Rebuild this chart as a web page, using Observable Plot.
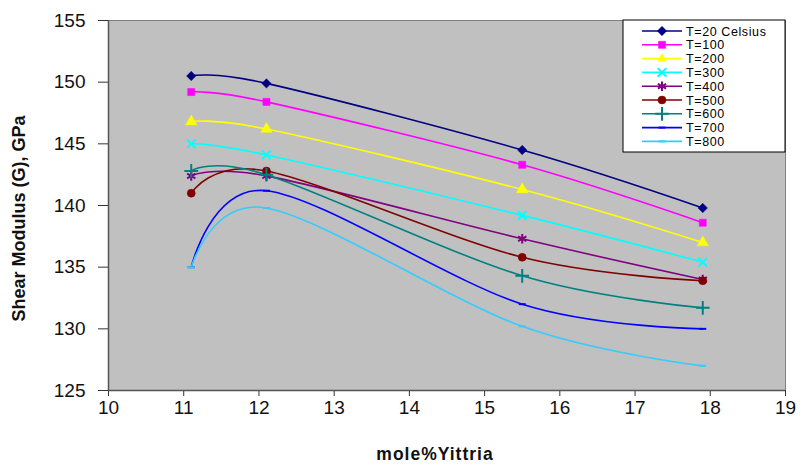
<!DOCTYPE html>
<html><head><meta charset="utf-8">
<script src="https://cdn.jsdelivr.net/npm/d3@7"></script>
<script src="https://cdn.jsdelivr.net/npm/@observablehq/plot@0.6"></script>
<style>body{margin:0;background:#fff;} #chart{width:802px;height:466px;}</style>
</head><body><div id="chart"></div>
<script>
const xValues = [11.1, 12.1, 15.5, 17.9];
const seriesNames = ["T=20 Celsius","T=100","T=200","T=300","T=400","T=500","T=600","T=700","T=800"];
const seriesColors = ["#000080","#FF00FF","#FFFF00","#00FFFF","#800080","#800000","#008080","#0000FF","#33CCFF"];
const t20  = [150.5, 149.9, 144.5, 139.8];
const t100 = [149.2, 148.4, 143.3, 138.6];
const t200 = [146.8, 146.2, 141.3, 137.0];
const t300 = [145.0, 144.1, 139.2, 135.4];
const t400 = [142.4, 142.4, 137.3, 134.0];
const t500 = [141.0, 142.8, 135.8, 133.9];
const t600 = [142.8, 142.5, 134.3, 131.7];
const t700 = [135.0, 141.2, 132.0, 130.0];
const t800 = [135.0, 139.8, 130.2, 127.0];
const yTicks = [125,130,135,140,145,150,155];
const xTicks = [10,11,12,13,14,15,16,17,18,19];
const xLabel = "mole%Yittria";
const yLabel = "Shear Modulus (G), GPa";

const allValues = [t20,t100,t200,t300,t400,t500,t600,t700,t800];
const data = [];
seriesNames.forEach((s,i) => xValues.forEach((x,j) => data.push({series:s, x, y:allValues[i][j]})));

const dash = {draw(ctx, size){ const r = Math.sqrt(size/Math.PI); ctx.moveTo(-r,0); ctx.lineTo(r,0); }};
// symbol, filled?, r
const markerSpec = [
  ["diamond2", true, 4.2],
  ["square", true, 4],
  ["triangle", true, 4.2],
  ["times", false, 4],
  ["asterisk", false, 4.5],
  ["circle", true, 4],
  ["plus", false, 4.5],
  [dash, false, 3.5],
  [dash, false, 3.5]
];

const marks = [
  Plot.frame({fill:"#C0C0C0", stroke:"#808080"}),
  Plot.line(data, {x:"x", y:"y", z:"series", stroke:"series", curve:"cardinal", tension:0, strokeWidth:1.6})
];
seriesNames.forEach((s,i) => {
  const [sym, filled, r] = markerSpec[i];
  const sub = data.filter(d => d.series === s);
  marks.push(Plot.dot(sub, filled
    ? {x:"x", y:"y", symbol:()=>sym, fill:seriesColors[i], stroke:seriesColors[i], strokeWidth:0.5, r}
    : {x:"x", y:"y", symbol:()=>sym, stroke:seriesColors[i], strokeWidth:2, r}));
});
marks.push(
  Plot.axisY({ticks:yTicks, tickSize:10, tickPadding:13, label:null, fontSize:19, stroke:"#333"}),
  Plot.axisX({ticks:xTicks, tickSize:6, tickPadding:4, label:null, fontSize:19, stroke:"#333"}),
  Plot.ruleX([10], {stroke:"#555", strokeWidth:1.5}),
  Plot.ruleY([125], {stroke:"#555", strokeWidth:1.5}),
  Plot.text([yLabel], {frameAnchor:"left", textAnchor:"middle", dx:-89, dy:13, rotate:-90, fontWeight:"bold", fontSize:18}),
  Plot.text([xLabel], {frameAnchor:"bottom", textAnchor:"middle", dx:-12, dy:69, fontWeight:"bold", fontSize:17.5})
);

const chart = Plot.plot({
  width:802, height:466,
  marginLeft:108, marginRight:17, marginTop:20, marginBottom:76,
  style:{fontFamily:"'Liberation Sans', Arial, sans-serif", fontSize:"19px", background:"#fff", color:"#111"},
  x:{domain:[10,19]},
  y:{domain:[125,155]},
  color:{domain:seriesNames, range:seriesColors},
  marks
});
document.getElementById("chart").appendChild(chart);
d3.select(chart).selectAll("text").filter(function(){ return this.textContent === xLabel; }).style("letter-spacing","1px");

// legend box
const svg = d3.select(chart);
const lg = svg.append("g").attr("font-family","'Liberation Sans', Arial, sans-serif").attr("font-size",12.5).attr("text-anchor","start").attr("letter-spacing","0.6px");
const bx = 623, by = 20, bw = 162, bh = 132;
lg.append("rect").attr("x",bx).attr("y",by).attr("width",bw).attr("height",bh).attr("fill","#fff").attr("stroke","#000");
const symbolPaths = {
  "diamond2": d3.symbolDiamond2, "square": d3.symbolSquare, "triangle": d3.symbolTriangle2,
  "times": d3.symbolTimes, "asterisk": d3.symbolAsterisk, "circle": d3.symbolCircle, "plus": d3.symbolPlus
};
seriesNames.forEach((s,i) => {
  const y = by + 11 + i*13.8;
  const c = seriesColors[i];
  lg.append("line").attr("x1",642).attr("x2",682).attr("y1",y).attr("y2",y).attr("stroke",c).attr("stroke-width",1.6);
  const [sym, filled, r] = markerSpec[i];
  const size = Math.PI*r*r;
  const path = typeof sym === "string" ? d3.symbol(symbolPaths[sym], size)() : d3.symbol(sym, size)();
  lg.append("path").attr("d",path).attr("transform",`translate(662,${y})`)
    .attr("fill", filled ? c : "none").attr("stroke", c).attr("stroke-width", filled?0.5:2);
  lg.append("text").attr("x",686).attr("y",y).attr("dy","0.36em").attr("fill","#000").text(s);
});
</script></body></html>
